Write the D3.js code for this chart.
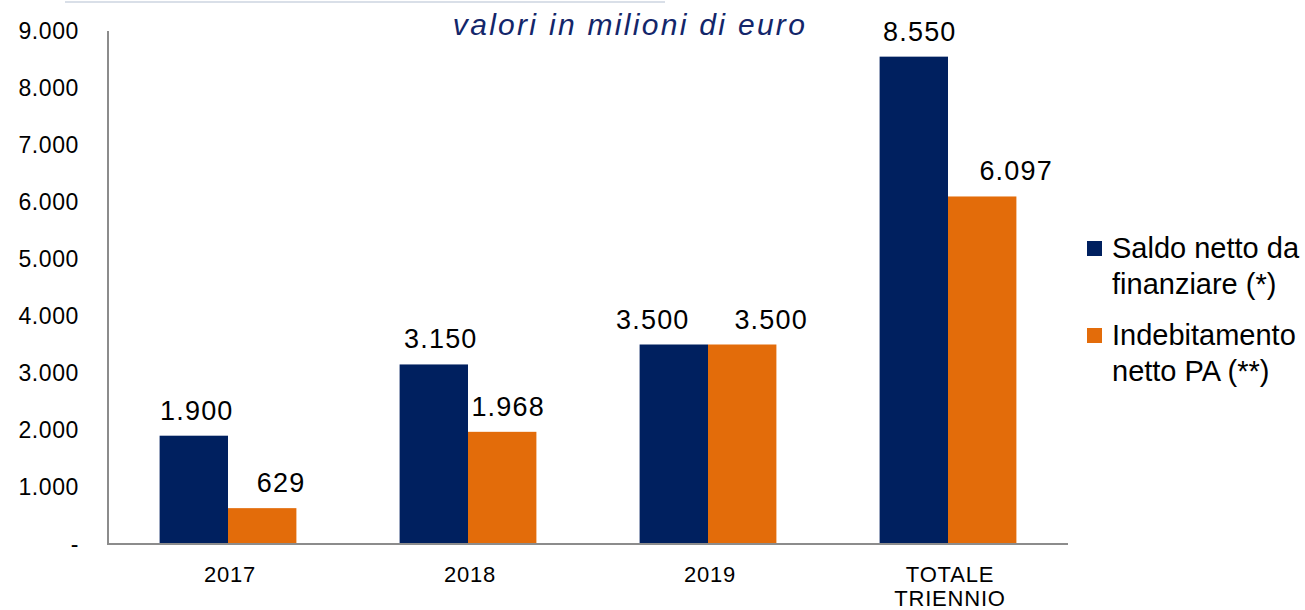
<!DOCTYPE html>
<html>
<head>
<meta charset="utf-8">
<script src="https://cdn.jsdelivr.net/npm/d3@7"></script>
<style>
  body { margin: 0; background: #fff; }
  svg text { font-family: "Liberation Sans", Arial, sans-serif; }
</style>
</head>
<body>
<div id="chart"></div>
<script>
const categories = [['2017'], ['2018'], ['2019'], ['TOTALE', 'TRIENNIO']];
const seriesNames = [['Saldo netto da', 'finanziare (*)'], ['Indebitamento', 'netto PA (**)']];
const saldo = [1900, 3150, 3500, 8550];
const indebitamento = [629, 1968, 3500, 6097];
const yTicks = [0, 1000, 2000, 3000, 4000, 5000, 6000, 7000, 8000, 9000];
const colors = ['#00205f', '#e36c0a'];
// horizontal nudges of the value labels, as placed in the original slide
const labelShift = [[3, 7, -21, 6], [19, 6, 29, 34]];

const width = 1305, height = 610;
const m = {left: 108, right: 237, top: 31, bottom: 66};
const svg = d3.select('#chart').append('svg').attr('width', width).attr('height', height);

const loc = d3.formatLocale({decimal: ',', thousands: '.', grouping: [3], currency: ['€', '']});
const fmt = v => v === 0 ? '-' : loc.format(',')(v);

const x = d3.scaleBand().domain(d3.range(categories.length)).range([m.left, width - m.right]).paddingInner(0.43).paddingOuter(0.215);
const xs = d3.scaleBand().domain([0, 1]).range([0, x.bandwidth()]);
const y = d3.scaleLinear().domain([0, 9000]).range([height - m.bottom, m.top]);

// faint top line
svg.append('line').attr('x1', 65).attr('x2', 665).attr('y1', 2).attr('y2', 2)
  .attr('stroke', '#d9dfe8').attr('stroke-width', 2);

// title
svg.append('text').attr('x', 630).attr('y', 35).attr('text-anchor', 'middle')
  .attr('font-size', 30).attr('font-style', 'italic').attr('fill', '#13266a')
  .attr('letter-spacing', 2.3)
  .text('valori in milioni di euro');

// y tick labels
svg.append('g').selectAll('text').data(yTicks).join('text')
  .attr('x', 79).attr('y', d => y(d)).attr('dy', '0.35em')
  .attr('text-anchor', 'end').attr('font-size', 23).attr('letter-spacing', 0.6).attr('fill', '#000')
  .text(fmt);

// bars
const series = [saldo, indebitamento];
series.forEach((vals, si) => {
  svg.append('g').selectAll('rect').data(vals).join('rect')
    .attr('x', (d, i) => x(i) + xs(si))
    .attr('y', d => y(d))
    .attr('width', xs.bandwidth())
    .attr('height', d => y(0) - y(d))
    .attr('fill', colors[si]);
  svg.append('g').selectAll('text').data(vals).join('text')
    .attr('x', (d, i) => x(i) + xs(si) + xs.bandwidth() / 2 + labelShift[si][i])
    .attr('y', d => y(d) - 16)
    .attr('text-anchor', 'middle').attr('font-size', 27).attr('letter-spacing', 1.2).attr('fill', '#000')
    .text(fmt);
});

// axes lines
svg.append('line').attr('x1', m.left).attr('x2', m.left).attr('y1', m.top).attr('y2', y(0) + 1)
  .attr('stroke', '#8c8c8c').attr('stroke-width', 2);
svg.append('line').attr('x1', m.left - 1).attr('x2', width - m.right).attr('y1', y(0)).attr('y2', y(0))
  .attr('stroke', '#8c8c8c').attr('stroke-width', 2);

// category labels
const cat = svg.append('g').selectAll('text').data(categories).join('text')
  .attr('text-anchor', 'middle').attr('font-size', 22).attr('letter-spacing', 0.8).attr('fill', '#000');
cat.each(function(lines, i) {
  d3.select(this).selectAll('tspan').data(lines).join('tspan')
    .attr('x', x(i) + x.bandwidth() / 2 + 2)
    .attr('y', (d, j) => 582 + j * 24)
    .text(d => d);
});

// legend
const legY = [258, 345];
seriesNames.forEach((lines, si) => {
  svg.append('rect').attr('x', 1087).attr('y', legY[si] - 17).attr('width', 15).attr('height', 15)
    .attr('fill', colors[si]);
  svg.append('text').attr('font-size', 29).attr('fill', '#000')
    .selectAll('tspan').data(lines).join('tspan')
    .attr('x', 1112).attr('y', (d, j) => legY[si] + j * 36)
    .text(d => d);
});
</script>
</body>
</html>
